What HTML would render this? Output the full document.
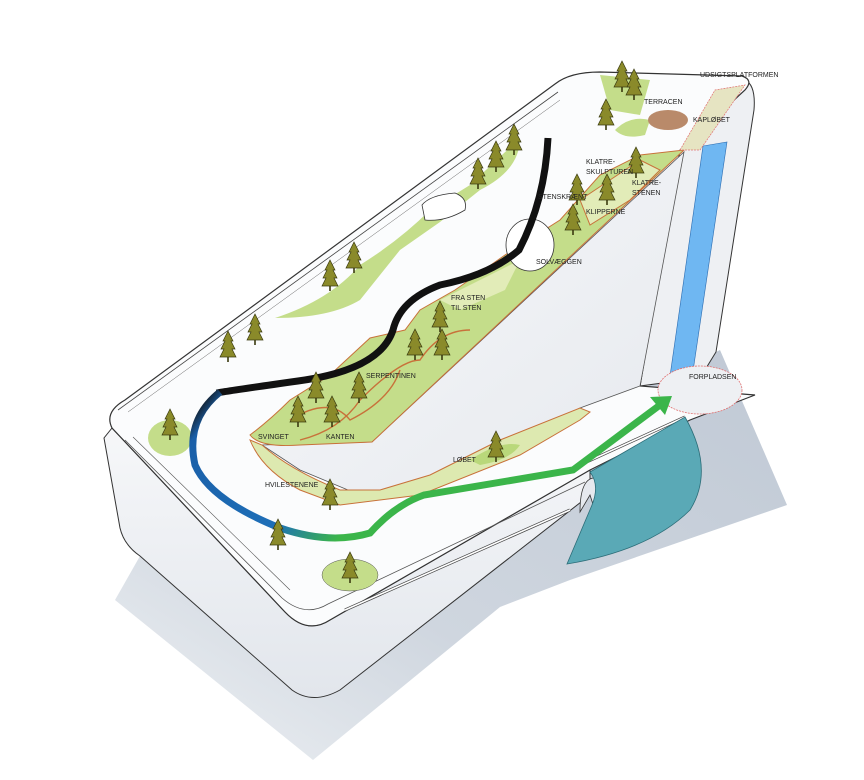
<!DOCTYPE html>
<html><head><meta charset="utf-8"><style>
html,body{margin:0;padding:0;background:#fff;}
svg{display:block;}
text{font-family:"Liberation Sans",sans-serif;font-size:7px;fill:#222;}
</style></head><body>
<svg width="864" height="780" viewBox="0 0 864 780">
<defs>
<linearGradient id="sh" x1="1" y1="0" x2="0" y2="1">
<stop offset="0" stop-color="#c0c9d5"/><stop offset="0.6" stop-color="#cfd6df"/><stop offset="1" stop-color="#eef1f4"/></linearGradient>
<linearGradient id="ff" x1="0" y1="0" x2="0" y2="1">
<stop offset="0" stop-color="#f6f7f9"/><stop offset="1" stop-color="#e2e6ec"/></linearGradient>
<linearGradient id="sf" x1="0" y1="0" x2="1" y2="1">
<stop offset="0" stop-color="#f7f8fa"/><stop offset="1" stop-color="#e6e9ee"/></linearGradient>
<linearGradient id="bg" gradientUnits="userSpaceOnUse" x1="200" y1="400" x2="380" y2="540">
<stop offset="0" stop-color="#111"/><stop offset="0.08" stop-color="#1a5fa8"/><stop offset="0.6" stop-color="#1e6fb8"/><stop offset="0.85" stop-color="#3bb54a"/><stop offset="1" stop-color="#3bb54a"/></linearGradient>
<g id="t"><path d="M0,-16 L5,-6 L3,-6 L7,2 L4,2 L8,10 L-8,10 L-4,2 L-7,2 L-3,-6 L-5,-6Z" fill="#8a8a2a" stroke="#3a3a10" stroke-width="0.7"/><rect x="-0.8" y="10" width="1.6" height="5" fill="#3a3a10"/></g>
</defs>
<!-- shadow -->
<path d="M115,600 L313,760 L500,607 L570,580 L787,505 L720,350 L640,390 L590,470 L340,690 L140,556Z" fill="url(#sh)"/>
<!-- right tall face -->
<path d="M680,150 L745,80 Q756,85 754,110 L716,352 L700,378 L640,386 Z" fill="#eef0f3" stroke="#333" stroke-width="1"/>
<path d="M703,146 L727,142 L692,378 L668,390 Z" fill="#6fb7f2" stroke="#2a6bb0" stroke-width="0.6"/>
<!-- front face -->
<path d="M112,428 L104,438 L120,528 Q124,545 140,556 L292,690 Q313,705 340,690 L590,495 L590,470 L330,620 Q307,635 285,612 Z" fill="url(#ff)" stroke="#333" stroke-width="1"/>
<!-- top surface -->
<path d="M112,428 Q104,412 125,400 L555,84 Q570,72 600,72 L742,76 Q754,80 745,90 L680,150 L640,386 L755,395 L690,420 L590,470 L330,620 Q307,635 285,612 Z" fill="#fbfcfd" stroke="#333" stroke-width="1.2"/>
<!-- ramp side face -->
<path d="M372,442 L684,152 L640,386 L580,408 L420,490 L360,495 L300,470 L262,445 Z" fill="url(#sf)" stroke="#555" stroke-width="0.8"/>
<!-- inner ridge lines -->
<path d="M118,410 L558,92" stroke="#444" stroke-width="0.8" fill="none"/>
<path d="M128,412 L560,100" stroke="#666" stroke-width="0.5" fill="none"/>
<path d="M125,440 L282,598 Q305,618 328,604 L585,482" stroke="#555" stroke-width="0.8" fill="none"/>
<path d="M133,437 L290,590" stroke="#555" stroke-width="0.6" fill="none"/>
<path d="M345,610 L570,510" stroke="#444" stroke-width="3" fill="none"/>
<path d="M345,610 L570,510" stroke="#fff" stroke-width="1.6" fill="none"/>
<path d="M580,465 L685,417" stroke="#444" stroke-width="3"/><path d="M580,465 L685,417" stroke="#fff" stroke-width="1.6"/>
<!-- tunnel -->
<path d="M580,512 Q580,475 598,478 Q605,490 598,520 L590,495 Z" fill="#e6e9ee" stroke="#333" stroke-width="0.8"/>
<!-- pool -->
<path d="M590,472 L685,417 Q715,470 690,510 Q650,550 567,564 L592,505 Q600,485 590,472Z" fill="#5aa9b6" stroke="#2c6d78" stroke-width="0.8"/>
<!-- serpentine strip -->
<path d="M250,435 Q270,420 290,400 L330,375 L370,338 L405,330 L420,310 L455,290 L505,255 L560,220 L600,175 L640,155 L684,150 L372,442 L300,445 Q260,448 250,435Z" fill="#c4dd8a" stroke="#c8713a" stroke-width="1"/>
<path d="M290,420 Q330,395 350,420 Q390,400 400,370 M300,440 Q340,430 360,400 Q400,360 420,360 Q440,330 470,330" stroke="#c8713a" stroke-width="1.4" fill="none"/>
<path d="M440,300 L500,270 L520,260 L505,290 L460,310Z" fill="#e2ecb8"/>
<path d="M580,200 L640,160 L660,170 L630,200 L590,225Z" fill="#e2ecb8" stroke="#c8713a" stroke-width="1"/>
<!-- løbet strip -->
<path d="M250,440 Q262,470 300,490 L340,505 L420,495 L520,455 L580,420 L590,412 L580,408 L500,440 L430,475 L380,490 L340,490 Q290,470 262,445Z" fill="#dde9b0" stroke="#c8713a" stroke-width="1"/>
<path d="M470,460 Q500,440 520,445 Q510,460 480,465Z" fill="#b9d87a"/>
<!-- left green patch -->
<path d="M275,318 Q330,300 360,265 Q400,240 430,210 L470,185 L520,138 Q520,170 480,190 L440,222 L400,250 L360,300 Q330,318 275,318Z" fill="#c4dd8a"/>
<path d="M600,75 L650,80 L640,115 L610,110Z" fill="#c4dd8a"/>
<path d="M615,130 Q630,115 650,120 L645,135 Q625,140 615,130Z" fill="#c4dd8a"/>
<ellipse cx="668" cy="120" rx="20" ry="10" fill="#b98a6a"/>
<path d="M680,150 L715,90 L745,85 L700,150Z" fill="#e6e4c2" stroke="#e07070" stroke-dasharray="2,1" stroke-width="0.7"/>
<ellipse cx="170" cy="438" rx="22" ry="18" fill="#c4dd8a"/>
<ellipse cx="350" cy="575" rx="28" ry="16" fill="#c4dd8a" stroke="#555" stroke-width="0.5"/>
<ellipse cx="700" cy="390" rx="42" ry="24" fill="#eef0f3" stroke="#e07070" stroke-dasharray="2,1" stroke-width="0.8"/>
<!-- buildings -->
<ellipse cx="530" cy="245" rx="24" ry="26" fill="#fff" stroke="#333" stroke-width="0.8"/>
<path d="M422,205 Q430,195 455,193 Q468,198 465,210 Q445,222 425,220Z" fill="#fff" stroke="#333" stroke-width="0.8"/>
<!-- tracks -->
<path d="M548,138 Q545,200 519,250 Q490,275 440,285 Q400,300 393,330 Q380,370 298,381 Q220,392 217,393" stroke="#111" stroke-width="7" fill="none"/>
<path d="M220,392 Q185,420 195,465 Q210,500 280,528 Q330,545 370,533 Q395,505 424,495 L573,470 L660,405" stroke="url(#bg)" stroke-width="7" fill="none"/>
<path d="M650,397 L672,396 L665,415Z" fill="#3bb54a"/>
<!-- trees -->
<g>
<use href="#t" x="622" y="77"/><use href="#t" x="634" y="85"/><use href="#t" x="606" y="115"/><use href="#t" x="514" y="140"/><use href="#t" x="496" y="157"/><use href="#t" x="478" y="174"/><use href="#t" x="354" y="258"/><use href="#t" x="330" y="276"/><use href="#t" x="255" y="330"/><use href="#t" x="228" y="347"/><use href="#t" x="440" y="317"/><use href="#t" x="442" y="345"/><use href="#t" x="415" y="345"/><use href="#t" x="316" y="388"/><use href="#t" x="359" y="388"/><use href="#t" x="298" y="412"/><use href="#t" x="332" y="412"/><use href="#t" x="170" y="425"/><use href="#t" x="577" y="190"/><use href="#t" x="607" y="190"/><use href="#t" x="573" y="220"/><use href="#t" x="636" y="163"/><use href="#t" x="496" y="447"/><use href="#t" x="330" y="495"/><use href="#t" x="278" y="535"/><use href="#t" x="350" y="568"/>
</g>
<!-- labels -->
<text x="700" y="77">UDSIGTSPLATFORMEN</text>
<text x="644" y="104">TERRACEN</text>
<text x="693" y="122">KAPLØBET</text>
<text x="586" y="164">KLATRE-</text><text x="586" y="174">SKULPTUREN</text>
<text x="632" y="185">KLATRE-</text><text x="632" y="195">STENEN</text>
<text x="538" y="199">STENSKRÆNT</text>
<text x="586" y="214">KLIPPERNE</text>
<text x="536" y="264">SOLVÆGGEN</text>
<text x="451" y="300">FRA STEN</text><text x="451" y="310">TIL STEN</text>
<text x="366" y="378">SERPENTINEN</text>
<text x="258" y="439">SVINGET</text>
<text x="326" y="439">KANTEN</text>
<text x="453" y="462">LØBET</text>
<text x="265" y="487">HVILESTENENE</text>
<text x="689" y="379">FORPLADSEN</text>
</svg>
</body></html>
